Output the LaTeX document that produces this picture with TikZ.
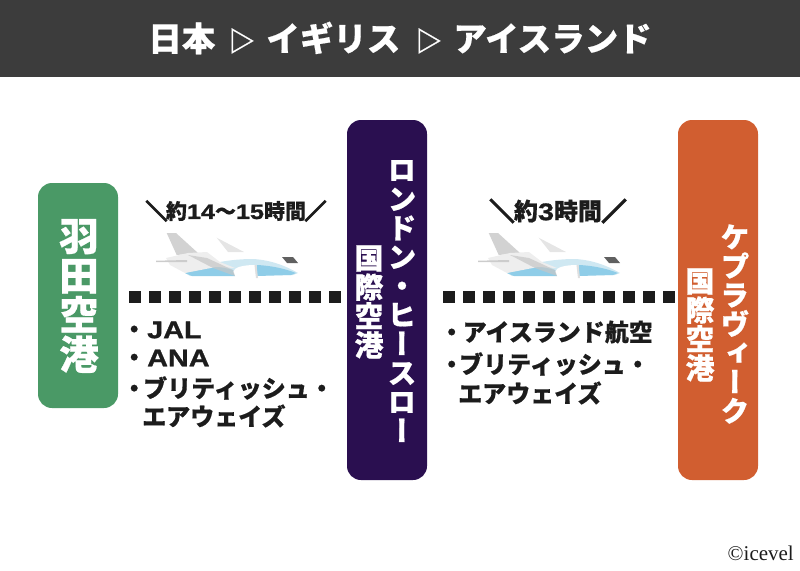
\documentclass[tikz,border=0pt]{standalone}
\usepackage{fontspec}
\usepackage{xcolor}
\newfontfamily\jpfont[FakeBold=0.5]{Noto Sans CJK JP Black}
\newfontfamily\jpheavy[FakeBold=8]{Noto Sans CJK JP Black}
\newfontfamily\jpvert[RawFeature={+vert},FakeBold=0.5]{Noto Sans CJK JP Black}
\newfontfamily\latinfont[FakeBold=1.2,FakeStretch=1.2]{Liberation Sans Bold}
\newfontfamily\creditfont{Liberation Serif}
\definecolor{headgray}{HTML}{3C3C3C}
\definecolor{hanedagreen}{HTML}{4A9966}
\definecolor{londonpurple}{HTML}{2A0F50}
\definecolor{keforange}{HTML}{D15E30}
\definecolor{inkblack}{HTML}{1C1C1C}
\definecolor{planeblue}{HTML}{8FCDE8}
\definecolor{planepale}{HTML}{CFE8F2}

\begin{document}
\begin{tikzpicture}[x=1pt, y=-1pt]
\tikzset{airport/.style = {draw=none, rounded corners=14pt}}
\tikzset{vtext/.style = {text=white, align=center, inner sep=0pt, font=\jpvert\fontsize{#1}{#1}\selectfont}}
\tikzset{info/.style = {text=inkblack, anchor=west, inner sep=0pt, font=\jpfont\fontsize{24}{24}\selectfont}}
\tikzset{duration/.style = {text=inkblack, inner sep=0pt, font=\jpfont\fontsize{#1}{#1}\selectfont}}
\tikzset{flight/.style = {draw=inkblack, line width=12pt, dash pattern=on 12pt off 8pt}}
\tikzset{plane/.pic = {
    \fill[gray!35] (10.7,0) -- (20,0) -- (42,20) -- (20.7,22) -- cycle;
    \fill[gray!20] (60.7,4.7) -- (88,19) -- (72,19) -- cycle;
    \fill[planepale] (29,40) .. controls (50,30) and (75,26) .. (97,26) .. controls (115,27) and (130,33) .. (142,40) -- (137,42) -- (34,43) -- cycle;
    \fill[planeblue] (29,40) -- (36,43) -- (79,43) -- (77,37) -- (57,32) -- cycle;
    \fill[planeblue] (101,32) .. controls (120,33) and (132,37) .. (140,40) -- (135,42) -- (101,43) -- cycle;
    \fill[gray!13] (10,25) -- (32,20) -- (51,19) -- (64,29) -- (79,35) -- (60,34) -- (29,40) -- (14,32) -- cycle;
    \fill[white] (77,39) .. controls (78,34) and (88,32) .. (99,32) -- (100,44) -- (79,43) -- cycle;
    \fill[gray!25] (98.5,32) -- (100.5,32) -- (102,45) -- (100,45) -- cycle;
    \fill[gray!40] (0,27.7) -- (31,27) -- (31,29) -- (0,29) -- cycle;
    \fill[gray!45,opacity=0.7] (32,22) -- (51,25) -- (77,37) -- (79,43) -- (57,35) -- cycle;
    \fill[gray!75!black] (126,24) -- (137,24) -- (142,30) -- (131,30) -- cycle;
}}

\useasboundingbox (0,0) rectangle (800,570);
\fill[headgray] (0,0) rectangle (800,77);
\node[text=white, inner sep=0pt, font=\jpfont\fontsize{33.5}{33.5}\selectfont] (title) at (400,38) {日本\hspace{13pt}{\fontsize{27}{27}\selectfont ▷}\hspace{11pt}イギリス\hspace{15pt}{\fontsize{27}{27}\selectfont ▷}\hspace{11pt}アイスランド};

% airports
\fill[airport, fill=hanedagreen] (38,183) rectangle (118,408);
\fill[airport, fill=londonpurple] (347,120) rectangle (427,480);
\fill[airport, fill=keforange] (678,120) rectangle (758,480);

\node[vtext=39.5] (haneda) at (79,296) {羽\\田\\空\\港};
\node[vtext=29] (london) at (402,301) {ロ\\ン\\ド\\ン\\・\\ヒ\\ー\\ス\\ロ\\ー};
\node[vtext=29] (londonsub) at (369,302) {国\\際\\空\\港};
\node[vtext=29] (kef) at (735,324) {ケ\\プ\\ラ\\ヴ\\ィ\\ー\\ク};
\node[vtext=29] (kefsub) at (700,325) {国\\際\\空\\港};

% flights
\coordinate (leftstart) at (129,297);
\coordinate (leftend) at (342,297);
\coordinate (rightstart) at (443,297);
\coordinate (rightend) at (676,297);
\draw[flight] (leftstart) -- (leftend);
\draw[flight] (rightstart) -- (rightend);

\pic at (156,233) {plane};
\pic at (478,233) {plane};

\node[duration=21] (timeleft) at (236,211) {{\jpheavy ＼}\kern-1pt 約{\latinfont 14}〜{\latinfont 15}時間\kern-1pt{\jpheavy ／}};
\node[duration=24] (timeright) at (558,211) {{\jpheavy ＼}約{\latinfont 3}時間{\jpheavy ／}};

\node[info] (jal) at (122,330) {・\kern1pt{\latinfont JAL}};
\node[info] (ana) at (122,358) {・\kern1pt{\latinfont ANA}};
\node[info] (ba) at (122,388) {・\kern-3ptブリティッシュ・};
\node[info] (bb) at (142,416) {エアウェイズ};

\node[info] (ice) at (439.5,332) {・\kern-1ptアイスランド航空};
\node[info] (bc) at (439.5,364) {・\kern-4.5ptブリティッシュ・};
\node[info] (bd) at (458,393) {エアウェイズ};

\node[anchor=east, inner sep=0pt, text=inkblack, font=\creditfont\fontsize{21}{21}\selectfont] (credit) at (794,553) {©icevel};
\end{tikzpicture}
\end{document}
